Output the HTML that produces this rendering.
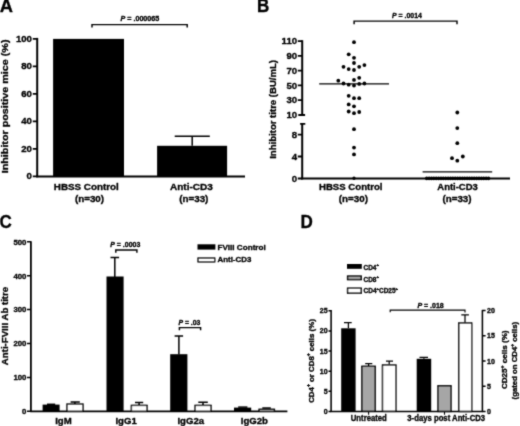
<!DOCTYPE html>
<html><head><meta charset="utf-8"><title>Figure</title>
<style>
html,body{margin:0;padding:0;background:#fff;}
svg{display:block;}
text{font-family:"Liberation Sans",Arial,sans-serif;font-weight:bold;fill:#000;stroke:#000;stroke-width:0.34px;stroke-linejoin:round;}
.ax{stroke:#000;stroke-width:1.8;fill:none;}
.tk{stroke:#000;stroke-width:1.5;fill:none;}
.er{stroke:#000;stroke-width:1.5;fill:none;}
.br{stroke:#000;stroke-width:1.45;fill:none;}
.md{stroke:#000;stroke-width:1.25;fill:none;}
.er2{stroke:#000;stroke-width:1.25;fill:none;}
.pl{font-size:17.6px;}
.t10{font-size:9.9px;}
.t9{font-size:9.8px;}
.t8{font-size:8px;}
.t96{font-size:9.8px;}
.t78{font-size:7.9px;}
.t82{font-size:7.4px;}
.t65{font-size:6.6px;}
.t75{font-size:7.7px;}
.t7{font-size:7.1px;}
.t55{font-size:5.6px;}
.e{text-anchor:end;}
.m{text-anchor:middle;}
.wb{fill:#fff;stroke:#000;stroke-width:1.45;}
.gb{fill:#a6a6a6;stroke:#000;stroke-width:1.45;}
</style></head><body>
<svg width="520" height="426" viewBox="0 0 520 426">
<defs><filter id="sf" x="0" y="0" width="520" height="426" filterUnits="userSpaceOnUse"><feConvolveMatrix order="3" kernelMatrix="0.3 1 0.3 1 5.4 1 0.3 1 0.3" divisor="10.6" edgeMode="none" preserveAlpha="false"/></filter></defs>
<rect width="520" height="426" fill="#fff"/>
<g filter="url(#sf)">

<!-- ================= Panel A ================= -->
<g id="pa">
<text class="pl" x="-0.2" y="12.3" textLength="13.2" lengthAdjust="spacingAndGlyphs">A</text>
<text class="t10 m" transform="translate(8.2,106.4) rotate(-90)" textLength="133.8" lengthAdjust="spacingAndGlyphs">Inhibitor positive mice (%)</text>
<line class="ax" style="stroke-width:2" x1="37.2" y1="37.9" x2="37.2" y2="177.2"/>
<line class="ax" style="stroke-width:1.9" x1="36.2" y1="176.5" x2="245" y2="176.5"/>
<path class="tk" style="stroke-width:1.8" d="M32.8 38.8H37.5M32.8 66.3H37.5M32.8 93.8H37.5M32.8 121.3H37.5M32.8 148.8H37.5M32.8 176.3H37.5"/>
<text class="t9 e" x="31.9" y="41.90" textLength="16.00" lengthAdjust="spacingAndGlyphs">100</text>
<text class="t9 e" x="31.9" y="69.45" textLength="10.70" lengthAdjust="spacingAndGlyphs">80</text>
<text class="t9 e" x="31.9" y="96.95" textLength="10.70" lengthAdjust="spacingAndGlyphs">60</text>
<text class="t9 e" x="31.9" y="124.45" textLength="10.70" lengthAdjust="spacingAndGlyphs">40</text>
<text class="t9 e" x="31.9" y="151.95" textLength="10.70" lengthAdjust="spacingAndGlyphs">20</text>
<text class="t9 e" x="31.9" y="179.40" textLength="5.35" lengthAdjust="spacingAndGlyphs">0</text>
<rect x="53.1" y="38.9" width="70.9" height="137.6"/>
<rect x="157.1" y="145.8" width="70" height="30.9"/>
<path class="er" d="M192.2 145.8V136.3M174.7 136.3H209.8"/>
<path class="br" d="M92 27.6V24.6H187.2V27.6"/>
<text class="t7" x="120.5" y="21.3" textLength="38.8" lengthAdjust="spacingAndGlyphs"><tspan font-style="italic">P</tspan> = .000065</text>
<text class="t10" x="53.8" y="189.5" textLength="65" lengthAdjust="spacingAndGlyphs">HBSS Control</text>
<text class="t10 m" x="89.5" y="201.6" textLength="29.14" lengthAdjust="spacingAndGlyphs">(n=30)</text>
<text class="t10" x="170" y="189.5" textLength="42.8" lengthAdjust="spacingAndGlyphs">Anti-CD3</text>
<text class="t10 m" x="193.8" y="201.8" textLength="29.14" lengthAdjust="spacingAndGlyphs">(n=33)</text>
</g>

<!-- ================= Panel B ================= -->
<g id="pb">
<text class="pl" x="256.9" y="11.8" textLength="12.3" lengthAdjust="spacingAndGlyphs">B</text>
<text class="t10 m" transform="translate(276.4,109.4) rotate(-90)" textLength="98.8" lengthAdjust="spacingAndGlyphs">Inhibitor titre (BU/mL)</text>
<line class="ax" style="stroke-width:2" x1="302.2" y1="40.2" x2="302.2" y2="115.5"/>
<line class="ax" style="stroke-width:2" x1="302.2" y1="123.2" x2="302.2" y2="179.4"/>
<line class="ax" style="stroke-width:1.9" x1="301.2" y1="178.5" x2="510" y2="178.5"/>
<path class="tk" style="stroke-width:1.8" d="M297.8 41.1H302.3M297.8 55.9H302.3M297.8 70.6H302.3M297.8 85.4H302.3M297.8 100.2H302.3M298.3 115H305.1M300.1 123.8H305.3M297.8 134.6H302.3M297.8 156.5H302.3M297.8 178.5H302.3"/>
<text class="t9 e" x="297.1" y="44.25" textLength="15.50" lengthAdjust="spacingAndGlyphs">110</text>
<text class="t9 e" x="297.1" y="59.05" textLength="10.70" lengthAdjust="spacingAndGlyphs">90</text>
<text class="t9 e" x="297.1" y="73.75" textLength="10.70" lengthAdjust="spacingAndGlyphs">70</text>
<text class="t9 e" x="297.1" y="88.55" textLength="10.70" lengthAdjust="spacingAndGlyphs">50</text>
<text class="t9 e" x="297.1" y="103.35" textLength="10.70" lengthAdjust="spacingAndGlyphs">30</text>
<text class="t9 e" x="297.1" y="118.15" textLength="10.70" lengthAdjust="spacingAndGlyphs">10</text>
<text class="t9 e" x="297.1" y="137.75" textLength="5.35" lengthAdjust="spacingAndGlyphs">8</text>
<text class="t9 e" x="297.1" y="159.65" textLength="5.35" lengthAdjust="spacingAndGlyphs">4</text>
<text class="t9 e" x="297.1" y="181.65" textLength="5.35" lengthAdjust="spacingAndGlyphs">0</text>
<path class="br" d="M354.1 24.2V21.1H457V24.2"/>
<text class="t7" x="392" y="17.6" textLength="29.9" lengthAdjust="spacingAndGlyphs"><tspan font-style="italic">P</tspan> = .0014</text>
<line class="md" x1="319.2" y1="83.9" x2="389" y2="83.9"/>
<line class="md" x1="422.6" y1="171.9" x2="492.2" y2="171.9"/>
<g id="dotsB1">
<circle cx="354" cy="42.2" r="1.9"/><circle cx="348.7" cy="54.3" r="1.9"/><circle cx="354" cy="57.8" r="1.9"/>
<circle cx="354" cy="63" r="1.9"/><circle cx="364.4" cy="65.1" r="1.9"/><circle cx="343.5" cy="66.8" r="1.9"/>
<circle cx="359.2" cy="66.8" r="1.9"/><circle cx="348.7" cy="69.1" r="1.9"/><circle cx="354" cy="70" r="1.9"/>
<circle cx="359.2" cy="77.8" r="1.9"/><circle cx="354" cy="79.9" r="1.9"/><circle cx="338.3" cy="80.7" r="1.9"/>
<circle cx="343.5" cy="83.5" r="1.9"/><circle cx="364.4" cy="83.5" r="1.9"/><circle cx="359.2" cy="83.9" r="1.9"/>
<circle cx="348.7" cy="84.7" r="1.9"/><circle cx="354" cy="85.6" r="1.9"/><circle cx="348.7" cy="95.8" r="1.9"/>
<circle cx="354" cy="98.2" r="1.9"/><circle cx="359.2" cy="98.2" r="1.9"/><circle cx="348.7" cy="104.4" r="1.9"/>
<circle cx="354" cy="106.3" r="1.9"/><circle cx="348.7" cy="111.5" r="1.9"/><circle cx="359.2" cy="112" r="1.9"/>
<circle cx="354" cy="113.2" r="1.9"/><circle cx="354" cy="129.2" r="1.9"/><circle cx="354" cy="147.6" r="1.9"/>
<circle cx="354" cy="154.4" r="1.9"/><circle cx="354" cy="178.3" r="1.7"/>
</g>
<g id="dotsB2">
<circle cx="457.3" cy="112.5" r="1.9"/><circle cx="457.3" cy="128.1" r="1.9"/><circle cx="457.3" cy="143.2" r="1.9"/>
<circle cx="462.8" cy="156.5" r="1.9"/><circle cx="452" cy="158.2" r="1.9"/><circle cx="457.3" cy="160.7" r="1.9"/>
<circle cx="426.7" cy="178.4" r="1.8"/><circle cx="429.1" cy="178.4" r="1.8"/><circle cx="431.5" cy="178.4" r="1.8"/><circle cx="433.8" cy="178.4" r="1.8"/><circle cx="436.2" cy="178.4" r="1.8"/><circle cx="438.6" cy="178.4" r="1.8"/><circle cx="441.0" cy="178.4" r="1.8"/><circle cx="443.3" cy="178.4" r="1.8"/><circle cx="445.7" cy="178.4" r="1.8"/><circle cx="448.1" cy="178.4" r="1.8"/><circle cx="450.5" cy="178.4" r="1.8"/><circle cx="452.8" cy="178.4" r="1.8"/><circle cx="455.2" cy="178.4" r="1.8"/><circle cx="457.6" cy="178.4" r="1.8"/><circle cx="460.0" cy="178.4" r="1.8"/><circle cx="462.4" cy="178.4" r="1.8"/><circle cx="464.7" cy="178.4" r="1.8"/><circle cx="467.1" cy="178.4" r="1.8"/><circle cx="469.5" cy="178.4" r="1.8"/><circle cx="471.9" cy="178.4" r="1.8"/><circle cx="474.2" cy="178.4" r="1.8"/><circle cx="476.6" cy="178.4" r="1.8"/><circle cx="479.0" cy="178.4" r="1.8"/><circle cx="481.4" cy="178.4" r="1.8"/><circle cx="483.7" cy="178.4" r="1.8"/><circle cx="486.1" cy="178.4" r="1.8"/><circle cx="488.5" cy="178.4" r="1.8"/>
</g>
<text class="t10" x="319" y="190.4" textLength="63.5" lengthAdjust="spacingAndGlyphs">HBSS Control</text>
<text class="t10 m" x="353.4" y="202.4" textLength="29.14" lengthAdjust="spacingAndGlyphs">(n=30)</text>
<text class="t10" x="437.3" y="190.4" textLength="40.5" lengthAdjust="spacingAndGlyphs">Anti-CD3</text>
<text class="t10 m" x="457" y="202.4" textLength="29.14" lengthAdjust="spacingAndGlyphs">(n=33)</text>
</g>

<!-- ================= Panel C ================= -->
<g id="pc">
<text class="pl" x="-0.5" y="228" textLength="12.3" lengthAdjust="spacingAndGlyphs">C</text>
<text class="t96 m" transform="translate(7.6,326) rotate(-90)" textLength="78.3" lengthAdjust="spacingAndGlyphs">Anti-FVIII Ab titre</text>
<line class="ax" x1="30.9" y1="241.2" x2="30.9" y2="412"/>
<line class="ax" x1="30.2" y1="411.3" x2="287.4" y2="411.3"/>
<path class="tk" d="M27 241.8H30.9M27 275.7H30.9M27 309.6H30.9M27 343.5H30.9M27 377.4H30.9M27 411.3H30.9"/>
<text class="t78 e" x="26.4" y="244.6" textLength="13.02" lengthAdjust="spacingAndGlyphs">500</text>
<text class="t78 e" x="26.4" y="278.5" textLength="13.02" lengthAdjust="spacingAndGlyphs">400</text>
<text class="t78 e" x="26.4" y="312.4" textLength="13.02" lengthAdjust="spacingAndGlyphs">300</text>
<text class="t78 e" x="26.4" y="346.3" textLength="13.02" lengthAdjust="spacingAndGlyphs">200</text>
<text class="t78 e" x="26.4" y="380.2" textLength="13.02" lengthAdjust="spacingAndGlyphs">100</text>
<text class="t78 e" x="26.4" y="414.1" textLength="4.34" lengthAdjust="spacingAndGlyphs">0</text>
<!-- IgM -->
<path class="er" d="M47 404.3H55.2"/>
<rect x="42.6" y="404.6" width="17" height="6.7"/>
<path class="er" d="M74.9 404V401.9M70.6 401.9H79.8"/>
<rect class="wb" x="67" y="404.1" width="16" height="7.2"/>
<!-- IgG1 -->
<path class="er" d="M114.8 277V257.4M110.5 257.4H119.1"/>
<rect x="106.5" y="276.5" width="17.1" height="134.8"/>
<path class="er" d="M139.1 405V402.5M135 402.5H143.2"/>
<rect class="wb" x="131.4" y="405.4" width="15.6" height="5.9"/>
<!-- IgG2a -->
<path class="er" d="M178.9 354.6V336.1M174.6 336.1H183.1"/>
<rect x="170.2" y="354.2" width="17.2" height="57.1"/>
<path class="er" d="M203 405V402.3M198.3 402.3H207.8"/>
<rect class="wb" x="195.1" y="405.4" width="15.9" height="5.9"/>
<!-- IgG2b -->
<path class="er" d="M238.2 407.1H247.4"/>
<rect x="234" y="407.6" width="17.2" height="3.7"/>
<path class="er" d="M262.3 408H270.8"/>
<rect class="wb" x="259.1" y="409.3" width="15.3" height="2"/>
<path class="br" d="M115.8 252.8V249.9H136.9V252.8"/>
<text class="t7" x="110.3" y="247.4" textLength="30" lengthAdjust="spacingAndGlyphs"><tspan font-style="italic">P</tspan> = .0003</text>
<path class="br" d="M179.4 330.3V327.6H200.6V330.3"/>
<text class="t7" x="178.4" y="324.6" textLength="22" lengthAdjust="spacingAndGlyphs"><tspan font-style="italic">P</tspan> = .03</text>
<rect x="197.5" y="244.3" width="17.9" height="5.3"/>
<text class="t75" style="font-size:8.1px" x="217.5" y="249.5" textLength="48.2" lengthAdjust="spacingAndGlyphs">FVIII Control</text>
<rect class="wb" x="198.1" y="258.1" width="16.6" height="3.7"/>
<text class="t75" style="font-size:8.1px" x="217.5" y="262.3" textLength="33.8" lengthAdjust="spacingAndGlyphs">Anti-CD3</text>
<text class="t96 m" x="63.4" y="424.3" textLength="16.53" lengthAdjust="spacingAndGlyphs">IgM</text>
<text class="t96 m" x="126.1" y="424.3" textLength="21.33" lengthAdjust="spacingAndGlyphs">IgG1</text>
<text class="t96 m" x="190.8" y="424.3" textLength="26.67" lengthAdjust="spacingAndGlyphs">IgG2a</text>
<text class="t96 m" x="254.4" y="424.3" textLength="27.19" lengthAdjust="spacingAndGlyphs">IgG2b</text>
</g>

<!-- ================= Panel D ================= -->
<g id="pd">
<text class="pl" x="300.5" y="227.9" textLength="12.3" lengthAdjust="spacingAndGlyphs">D</text>
<rect x="347" y="264" width="14.8" height="4.8"/>
<rect class="gb" x="347.6" y="276.1" width="13.6" height="3.5"/>
<rect class="wb" x="347.6" y="288.2" width="13.6" height="4.9"/>
<text class="t65" x="363.5" y="269.7" textLength="15.36" lengthAdjust="spacingAndGlyphs">CD4<tspan dy="-3.4" font-size="4.3" stroke-width="0.4">+</tspan></text>
<text class="t65" x="363.5" y="281.6" textLength="15.36" lengthAdjust="spacingAndGlyphs">CD8<tspan dy="-3.4" font-size="4.3" stroke-width="0.4">+</tspan></text>
<text class="t65" x="363.5" y="293.4" textLength="34.6" lengthAdjust="spacingAndGlyphs">CD4<tspan dy="-3.4" font-size="4.3" stroke-width="0.4">+</tspan><tspan dy="3.4">CD25</tspan><tspan dy="-3.4" font-size="4.3" stroke-width="0.4">+</tspan></text>
<text class="t82 m" transform="translate(313.8,361) rotate(-90)" textLength="83.7" lengthAdjust="spacingAndGlyphs">CD4<tspan dy="-3.8" font-size="4.6" stroke-width="0.4">+</tspan><tspan dy="3.8"> or CD8</tspan><tspan dy="-3.8" font-size="4.6" stroke-width="0.4">+</tspan><tspan dy="3.8"> cells (%)</tspan></text>
<line class="ax" style="stroke-width:1.55" x1="331.1" y1="310.1" x2="331.1" y2="412"/>
<line class="ax" style="stroke-width:1.45" x1="330.4" y1="411.4" x2="483.1" y2="411.4"/>
<path class="tk" style="stroke-width:1.1" d="M368.6 411.4V414.7M444.5 411.4V414.7"/>
<line class="ax" style="stroke-width:1.55" x1="482.4" y1="309.9" x2="482.4" y2="412"/>
<path class="tk" d="M328.5 310.8H331.1M328.5 330.9H331.1M328.5 351H331.1M328.5 371.2H331.1M328.5 391.3H331.1M328.5 411.4H331.1"/>
<path class="tk" d="M482.4 310.5H485.6M482.4 335.7H485.6M482.4 360.9H485.6M482.4 386.2H485.6M482.4 411.4H485.6"/>
<text class="t7 e" x="327.6" y="313.3" textLength="7.80" lengthAdjust="spacingAndGlyphs">25</text>
<text class="t7 e" x="327.6" y="333.4" textLength="7.80" lengthAdjust="spacingAndGlyphs">20</text>
<text class="t7 e" x="327.6" y="353.6" textLength="7.80" lengthAdjust="spacingAndGlyphs">15</text>
<text class="t7 e" x="327.6" y="373.7" textLength="7.80" lengthAdjust="spacingAndGlyphs">10</text>
<text class="t7 e" x="327.6" y="393.8" textLength="3.91" lengthAdjust="spacingAndGlyphs">5</text>
<text class="t7 e" x="327.6" y="413.9" textLength="3.91" lengthAdjust="spacingAndGlyphs">0</text>
<text class="t7" x="487" y="313.1" textLength="7.80" lengthAdjust="spacingAndGlyphs">20</text>
<text class="t7" x="487" y="338.3" textLength="7.80" lengthAdjust="spacingAndGlyphs">15</text>
<text class="t7" x="487" y="363.5" textLength="7.80" lengthAdjust="spacingAndGlyphs">10</text>
<text class="t7" x="487" y="388.7" textLength="3.91" lengthAdjust="spacingAndGlyphs">5</text>
<text class="t7" x="487" y="413.9" textLength="3.91" lengthAdjust="spacingAndGlyphs">0</text>
<!-- untreated -->
<path class="er2" d="M348.4 328.3V322.5M344 322.5H351.7"/>
<rect x="341.2" y="328.3" width="14.4" height="83"/>
<path class="er2" d="M368.6 366V363.5M365.2 363.5H372.3"/>
<rect class="gb" x="361.9" y="366.3" width="13.3" height="45"/>
<path class="er2" d="M389.2 364.4V361M386 361H393"/>
<rect class="wb" x="382.5" y="365" width="13.4" height="46.3"/>
<!-- anti-CD3 -->
<path class="er2" d="M423.9 358.8V357.3M419.5 357.3H428"/>
<rect x="416.7" y="358.8" width="14.5" height="52.5"/>
<rect class="gb" x="438" y="385.8" width="13" height="25.6"/>
<path class="er2" d="M465 322.8V314.8M461.3 314.8H468.9"/>
<rect class="wb" x="458.8" y="323" width="12.9" height="88.4"/>
<path class="br" style="stroke-width:1.15" d="M390.2 312.2V310.1H465V312.4"/>
<text class="t7" x="417.4" y="307.8" textLength="26.4" lengthAdjust="spacingAndGlyphs"><tspan font-style="italic">P</tspan> = .018</text>
<text class="t75" style="font-size:8.3px" x="350.8" y="421.2" textLength="36" lengthAdjust="spacingAndGlyphs">Untreated</text>
<text class="t75" style="font-size:8.3px" x="407.3" y="421.2" textLength="77.8" lengthAdjust="spacingAndGlyphs">3-days post Anti-CD3</text>
<text class="t82 m" transform="translate(507.4,359.8) rotate(-90)" textLength="58.6" lengthAdjust="spacingAndGlyphs">CD25<tspan dy="-3.8" font-size="4.6" stroke-width="0.4">+</tspan><tspan dy="3.8"> cells (%)</tspan></text>
<text class="t82 m" transform="translate(517.4,360.7) rotate(-90)" textLength="77.5" lengthAdjust="spacingAndGlyphs">(gated on CD4<tspan dy="-3.8" font-size="4.6" stroke-width="0.4">+</tspan><tspan dy="3.8"> cells)</tspan></text>
</g>
</g>
</svg>
</body></html>
